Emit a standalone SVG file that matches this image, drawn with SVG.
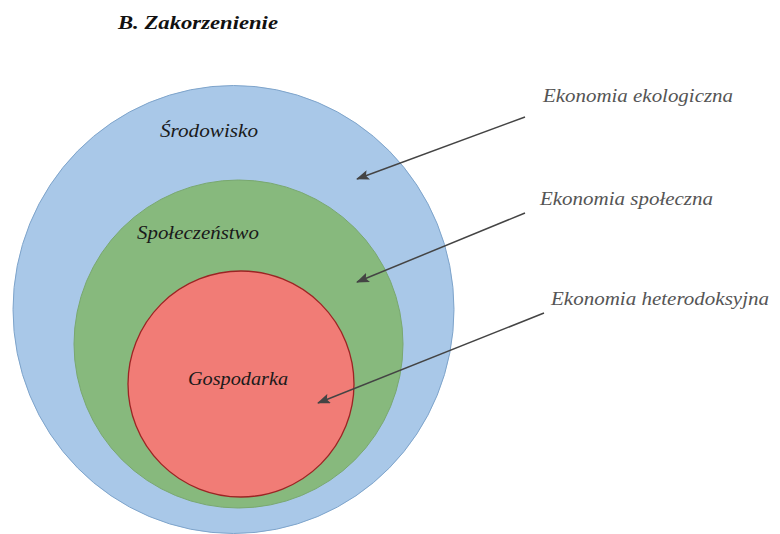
<svg xmlns="http://www.w3.org/2000/svg" width="780" height="534" viewBox="0 0 780 534">
<defs>
<marker id="ah" viewBox="0 0 13 10" refX="12" refY="5" markerWidth="13" markerHeight="10" markerUnits="userSpaceOnUse" orient="auto">
<path d="M0,0 L13,5 L0,10 L2.5,5 z" fill="#444"/>
</marker>
<style>
.lbl{font-family:"Liberation Serif","Times New Roman",serif;font-style:italic;font-size:18px;fill:#1a1a1a}
.side{font-family:"Liberation Serif","Times New Roman",serif;font-style:italic;font-size:18px;fill:#555}
.arr{stroke:#444;stroke-width:1.5;fill:none;marker-end:url(#ah)}
</style>
</defs>
<rect width="780" height="534" fill="#fff"/>
<text x="118" y="29" font-family="Liberation Serif, serif" font-style="italic" font-weight="bold" font-size="18" fill="#111" textLength="160" lengthAdjust="spacingAndGlyphs">B. Zakorzenienie</text>
<g id="srodowisko">
<ellipse cx="233.5" cy="309.5" rx="220.5" ry="224" fill="#a9c8e8" stroke="#7ea4cb" stroke-width="1"/>
<text class="lbl" x="160" y="137" textLength="98" lengthAdjust="spacingAndGlyphs">Środowisko</text>
</g>
<g id="spoleczenstwo">
<ellipse cx="238.5" cy="344" rx="164.5" ry="164" fill="#87b97d" stroke="#79a86f" stroke-width="1"/>
<text class="lbl" x="137" y="239" textLength="122" lengthAdjust="spacingAndGlyphs">Społeczeństwo</text>
</g>
<g id="gospodarka">
<ellipse cx="241" cy="384" rx="113" ry="113" fill="#f17c76" stroke="#9c2424" stroke-width="1.3"/>
<text class="lbl" x="188" y="385" textLength="100" lengthAdjust="spacingAndGlyphs">Gospodarka</text>
</g>
<g id="ekologiczna">
<text class="side" x="543" y="102" textLength="190" lengthAdjust="spacingAndGlyphs">Ekonomia ekologiczna</text>
</g>
<g id="spoleczna">
<text class="side" x="540" y="205" textLength="173" lengthAdjust="spacingAndGlyphs">Ekonomia społeczna</text>
</g>
<g id="heterodoksyjna">
<text class="side" x="551" y="305" textLength="218" lengthAdjust="spacingAndGlyphs">Ekonomia heterodoksyjna</text>
</g>
<g id="connectors">
<line class="arr" x1="525" y1="117" x2="357" y2="179"/>
<line class="arr" x1="525" y1="213" x2="357" y2="282"/>
<line class="arr" x1="544" y1="313" x2="318" y2="403"/>
</g>
</svg>
